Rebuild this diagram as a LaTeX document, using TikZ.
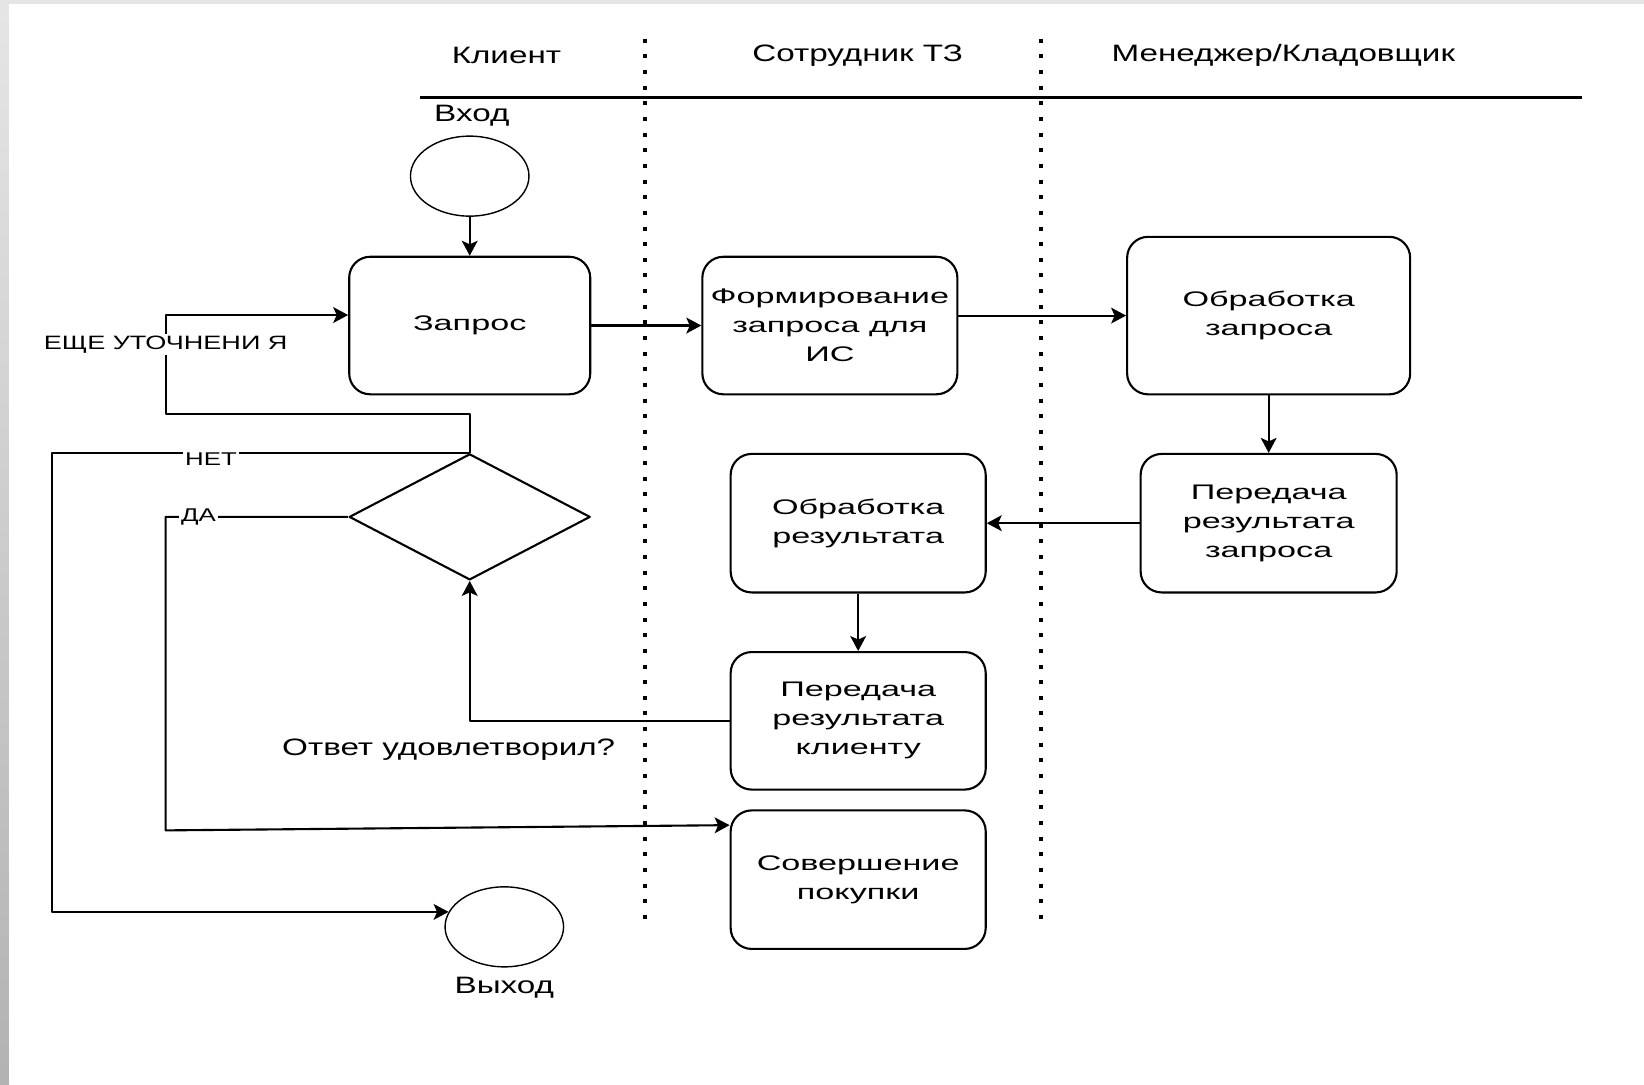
\documentclass[tikz,border=0pt]{standalone}
\usepackage{fontspec}
\setmainfont{Liberation Sans}
\newfontfamily\boxfont[FakeStretch=1.62]{Liberation Sans}
\newfontfamily\lblfont[FakeStretch=1.4]{Liberation Sans}
\usetikzlibrary{shapes.geometric,arrows.meta}

\tikzset{
  box/.style={draw,rounded corners=0.42cm,line width=1.2pt,align=center,inner sep=0pt,
    font=\boxfont\fontsize{12}{16.5}\selectfont},
  term/.style={draw,ellipse,line width=0.8pt,minimum width=2.37cm,minimum height=1.6cm},
  dec/.style={draw,diamond,line width=1.2pt,minimum width=4.82cm,minimum height=2.52cm},
  lane/.style={line width=2.3pt,dash pattern=on 2.3pt off 6.6pt},
  lbl/.style={font=\lblfont\fontsize{13.5}{16}\selectfont},
  tag/.style={font=\lblfont\fontsize{10.5}{12}\selectfont,fill=white,inner sep=1pt},
  conn/.style={->,line width=1.2pt}
}

\begin{document}
\begin{tikzpicture}[x=0.02097cm,y=-0.02097cm,line join=round,
    >={Stealth[length=8.5pt,width=9pt,inset=2pt]}]
  % frame
  \useasboundingbox (0,0) rectangle (1568,1034);
  \fill[black!10] (0,0) rectangle (1568,3.8);
  \shade[top color=black!10,bottom color=black!30] (0,0) rectangle (8.6,1034);
  \fill[white] (8.6,3.8) rectangle (1568,1034);

  % lanes
  \node[lbl] (hcl) at (483,53) {Клиент};
  \node[lbl] (hst) at (818,53) {Сотрудник ТЗ};
  \node[lbl] (hmn) at (1224,53) {Менеджер/Кладовщик};
  \draw[line width=1.2pt] (401,93) -- (1509,93);
  \foreach \x in {615,993} {
      \draw[lane] (\x,37) -- (\x,885);
    }

  % start / end
  \node[term] (start) at (448,168) {};
  \node[lbl] (vhod) at (450,110) {Вход};
  \node[term] (exit) at (481,884) {};
  \node[lbl] (vyhod) at (481,942) {Выход};

  % steps
  \node[box,minimum width=4.82cm,minimum height=2.75cm] (zapros) at (448,310.5) {Запрос};
  \node[box,minimum width=5.10cm,minimum height=2.75cm] (form) at (791.5,310.5)
    {Формирование\\запроса для\\ИС};
  \node[box,minimum width=5.66cm,minimum height=3.15cm] (obrzap) at (1210,301)
    {Обработка\\запроса};
  \node[box,minimum width=5.12cm,minimum height=2.77cm] (peredzap) at (1210,499)
    {Передача\\результата\\запроса};
  \node[box,minimum width=5.10cm,minimum height=2.77cm] (obrres) at (818.5,499)
    {Обработка\\результата};
  \node[box,minimum width=5.10cm,minimum height=2.75cm] (peredkl) at (818.5,687.5)
    {Передача\\результата\\клиенту};
  \node[box,minimum width=5.10cm,minimum height=2.77cm] (pokupka) at (818.5,839)
    {Совершение\\покупки};

  % decision
  \node[dec] (dec) at (448,493) {};
  \node[lbl] (otvet) at (428,715) {Ответ удовлетворил?};

  \coordinate (cut) at (158,395);
  \coordinate (cnet) at (50,868);
  \coordinate (cda) at (158,792);

  % flow
  \draw[conn] (start) -- (zapros);
  \draw[conn] (zapros) -- (form);
  \draw[conn] (form.east |- obrzap) -- (obrzap);
  \draw[conn] (obrzap) -- (peredzap);
  \draw[conn] (peredzap) -- (obrres);
  \draw[conn] (obrres) -- (peredkl);
  \draw[conn] (peredkl) -| (dec);
  \draw[conn] (dec.north) |- (cut) |- node[tag,font=\lblfont\fontsize{11}{13}\selectfont,pos=0.35]
    {ЕЩЕ УТОЧНЕНИ Я} ([yshift=0.21cm]zapros.west);
  \draw[conn] (dec.north) -| node[tag,pos=0.31,yshift=-0.12cm] {НЕТ} (cnet) |- (exit.165);
  \draw[conn] (dec.west) -| node[tag,pos=0.41] {ДА} (cda) -- ([yshift=1.09cm]pokupka.west);
\end{tikzpicture}
\end{document}
